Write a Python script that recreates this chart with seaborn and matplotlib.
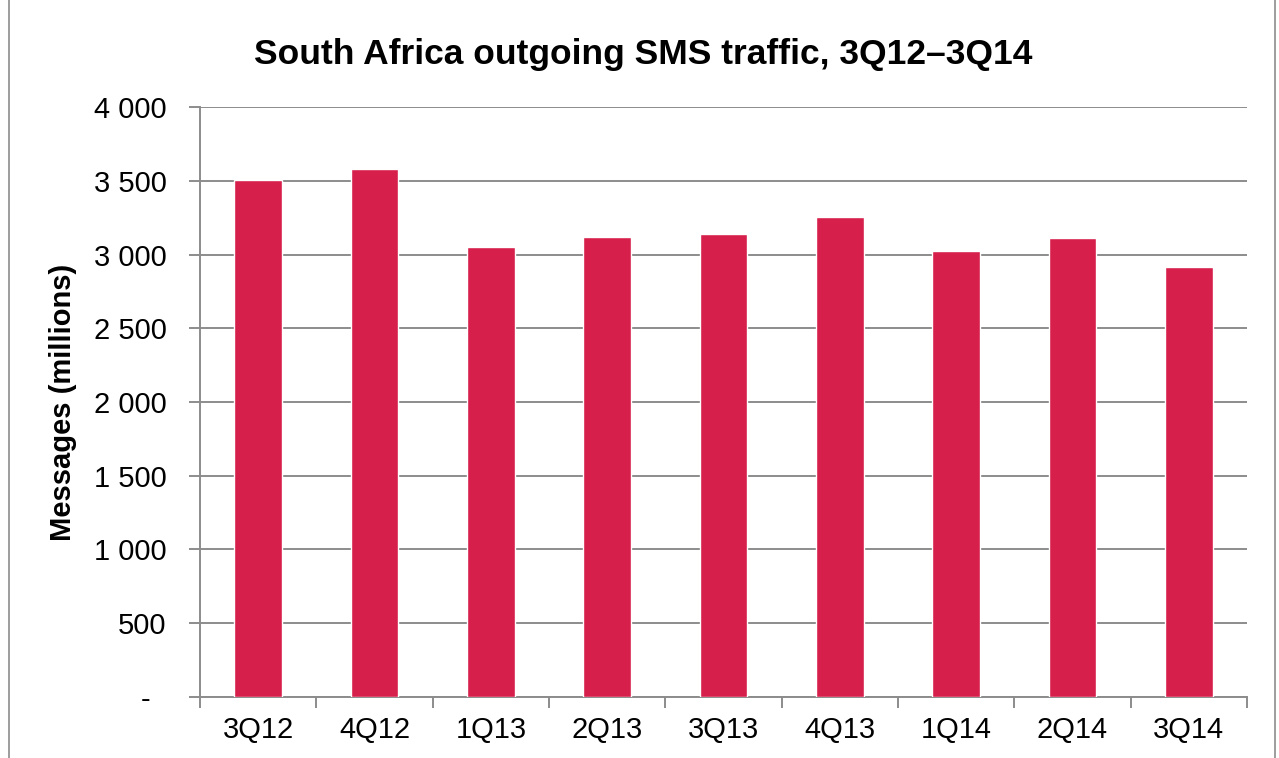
import seaborn as sns
import matplotlib.pyplot as plt
import pandas as pd
from matplotlib.patches import Rectangle
from matplotlib.ticker import FuncFormatter, FixedLocator

quarters = ['3Q12', '4Q12', '1Q13', '2Q13', '3Q13', '4Q13', '1Q14', '2Q14', '3Q14']
messages = [3507, 3581, 3051, 3122, 3142, 3257, 3024, 3112, 2912]

sns.set_theme(style="white")
plt.rcParams['font.family'] = ['Liberation Sans', 'DejaVu Sans']
plt.rcParams['text.color'] = 'black'
plt.rcParams['axes.labelcolor'] = 'black'

df = pd.DataFrame({'quarter': quarters, 'messages': messages})

fig = plt.figure(figsize=(12.79, 7.58), dpi=100)
ax = fig.add_axes([0.1564, 0.0805, 0.8186, 0.7783])

sns.barplot(data=df, x='quarter', y='messages', color='#D61F4B',
            saturation=1, width=0.41, ax=ax, zorder=3)

ax.set_ylim(0, 4000)
ax.set_xlim(-0.5, len(quarters) - 0.5)
ax.set_yticks(range(0, 4001, 500))
ax.yaxis.set_major_formatter(FuncFormatter(
    lambda v, p: '-  ' if v == 0 else f'{int(v):,}'.replace(',', ' ')))
ax.yaxis.grid(True, color='#8c8c8c', linewidth=1.4, zorder=0)
ax.set_axisbelow(True)

ax.xaxis.set_minor_locator(FixedLocator([i - 0.5 for i in range(len(quarters) + 1)]))
ax.tick_params(which='both', bottom=True, left=True)
ax.tick_params(axis='x', which='major', length=0, labelsize=21, pad=14, labelcolor='black')
ax.tick_params(axis='x', which='minor', length=8, width=1.4, color='#8c8c8c', direction='out')
ax.tick_params(axis='y', length=8, width=1.4, color='#8c8c8c', direction='out',
               labelsize=21, pad=16, labelcolor='black')

for side in ['top', 'right']:
    ax.spines[side].set_visible(False)
for side in ['left', 'bottom']:
    ax.spines[side].set_color('#8c8c8c')
    ax.spines[side].set_linewidth(1.4)

ax.set_xlabel('')
ax.set_ylabel('Messages (millions)', fontsize=21, fontweight='bold', labelpad=12, color='black')
fig.text(0.503, 0.928, 'South Africa outgoing SMS traffic, 3Q12–3Q14',
         ha='center', va='center', fontsize=25.5, fontweight='bold', color='black')

fig.patches.append(Rectangle((0.007, -0.01), 0.99, 1.02, transform=fig.transFigure,
                             fill=False, edgecolor='#8c8c8c', linewidth=1.2))

fig.savefig('out.png', dpi=100)
